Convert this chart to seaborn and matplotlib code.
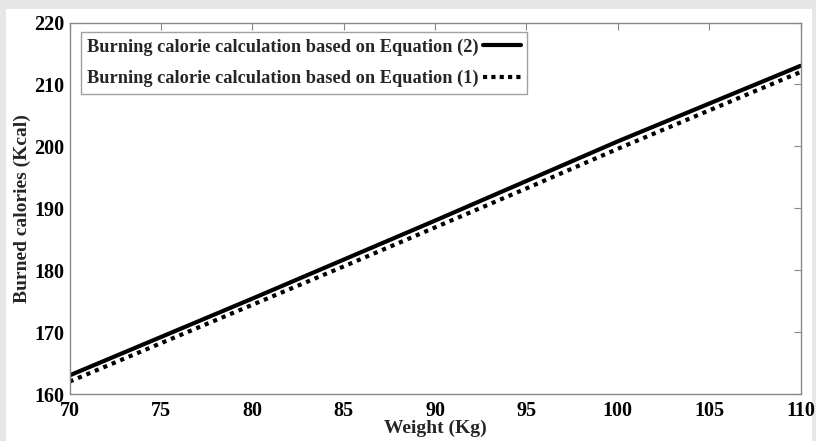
import numpy as np
import pandas as pd
import matplotlib.pyplot as plt
import matplotlib.patches as mpatches
import seaborn as sns

# values
weight = [70, 75, 80, 85, 90, 95, 100, 105, 110]
cal_eq2 = [163.0, 169.2, 175.4, 181.7, 188.0, 194.4, 200.8, 206.9, 213.0]
cal_eq1 = [162.0, 168.2, 174.4, 180.6, 186.9, 193.2, 199.6, 205.8, 212.0]
label_eq2 = 'Burning calorie calculation based on Equation (2)'
label_eq1 = 'Burning calorie calculation based on Equation (1)'

df = pd.DataFrame({'Weight': weight * 2,
                   'Calories': cal_eq2 + cal_eq1,
                   'Series': [label_eq2] * len(weight) + [label_eq1] * len(weight)})

sns.set_theme(style="white")
plt.rcParams['font.family'] = ['Liberation Serif', 'DejaVu Serif']
plt.rcParams['font.weight'] = 'bold'

fig = plt.figure(figsize=(8.16, 4.41), dpi=100, facecolor='#e6e6e6')
fig.patches.append(mpatches.Rectangle((6 / 816, 0), 806 / 816, 432 / 441,
                                      transform=fig.transFigure, facecolor='white',
                                      edgecolor='none', zorder=-1))
ax = fig.add_axes([69.5 / 816, 1 - 394 / 441, 731 / 816, 371.5 / 441])

sns.lineplot(data=df, x='Weight', y='Calories', hue='Series', style='Series',
             palette=['black', 'black'], dashes=[(None, None), (1, 1)],
             linewidth=3, ax=ax)
ax.lines[1].set_linestyle((0, (1, 1.2)))

ax.set_xlim(70, 110)
ax.set_ylim(160, 220)
ax.set_xticks(np.arange(70, 111, 5))
ax.set_yticks(np.arange(160, 221, 10))
ax.tick_params(direction='in', length=5, width=0.8, color='#888888',
               top=True, right=True, labelsize=14.5, labelcolor='black', pad=4)
ax.tick_params(axis='x', pad=5)
for lab in ax.get_xticklabels() + ax.get_yticklabels():
    lab.set_fontweight('bold')
for s in ax.spines.values():
    s.set_color('#888888')
    s.set_linewidth(1.0)

ax.set_xlabel('Weight (Kg)', fontsize=14, fontweight='bold', labelpad=-1)
ax.set_ylabel('Burned calories (Kcal)', fontsize=14, fontweight='bold', labelpad=2)

handles, labels = ax.get_legend_handles_labels()
leg = ax.legend(handles, labels, loc='upper left', bbox_to_anchor=(0.0157, 0.975),
                borderaxespad=0, markerfirst=False, handlelength=2.1,
                frameon=True, fancybox=False,
                prop={'family': 'Liberation Serif', 'weight': 'bold', 'size': 13.2},
                borderpad=0.35, labelspacing=0.8, handletextpad=0.2)
leg.get_frame().set_edgecolor('#888888')
leg.get_frame().set_linewidth(1.0)

fig.savefig('out.png', dpi=100, facecolor=fig.get_facecolor())
